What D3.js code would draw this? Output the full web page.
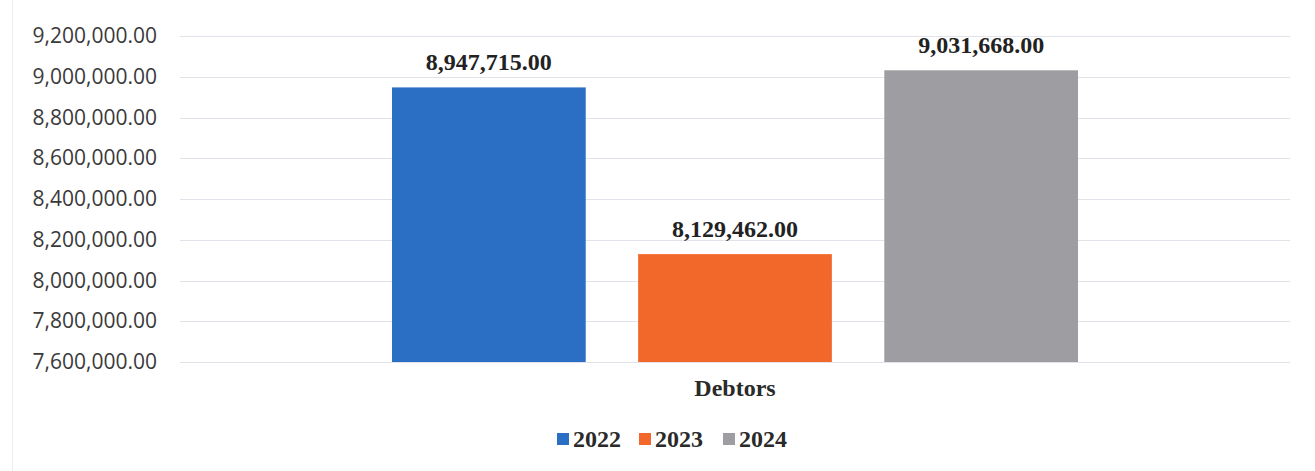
<!DOCTYPE html>
<html>
<head>
<meta charset="utf-8">
<script src="https://cdn.jsdelivr.net/npm/d3@7"></script>
<style>
  html, body { margin: 0; padding: 0; background: #ffffff; }
  svg { display: block; }
</style>
</head>
<body>
<svg id="chart" width="1315" height="471"></svg>
<script>
// Debtors balance by year
const categories = ["Debtors"];
const years = ["2022", "2023", "2024"];
const values2022 = [8947715.00];
const values2023 = [8129462.00];
const values2024 = [9031668.00];
const yTicks = [7600000, 7800000, 8000000, 8200000, 8400000, 8600000, 8800000, 9000000, 9200000];
const colors = ["#2a6fc4", "#f2672a", "#9e9ea2"];

const seriesValues = [values2022, values2023, values2024];

const W = 1315, H = 471;
const margin = { top: 36, right: 25, bottom: 109, left: 180 };
const plotW = W - margin.left - margin.right;
const plotH = H - margin.top - margin.bottom;

const svg = d3.select("#chart");
const g = svg.append("g").attr("transform", `translate(${margin.left},${margin.top})`);

// faint chart-area border on the left
svg.append("line")
  .attr("x1", 12.5).attr("x2", 12.5).attr("y1", 0).attr("y2", H)
  .attr("stroke", "#ececf2").attr("stroke-width", 1);

const y = d3.scaleLinear().domain([7600000, 9200000]).range([plotH, 0]);
const x0 = d3.scaleBand().domain(categories).range([0, plotW]).paddingInner(0).paddingOuter(0.309);
const x1 = d3.scaleBand().domain(years).range([0, x0.bandwidth()]).paddingInner(0.213).paddingOuter(0);

// horizontal gridlines
g.append("g")
  .selectAll("line")
  .data(yTicks)
  .join("line")
  .attr("x1", 0).attr("x2", plotW)
  .attr("y1", d => Math.round(y(d)) + 0.5).attr("y2", d => Math.round(y(d)) + 0.5)
  .attr("stroke", "#e2e2ea").attr("stroke-width", 1);

// y axis labels
const fmt = d3.format(",.2f");
const yAxis = g.append("g")
  .call(d3.axisLeft(y).tickValues(yTicks).tickFormat(fmt).tickSize(0).tickPadding(23));
yAxis.select(".domain").remove();
yAxis.selectAll("text")
  .attr("font-family", "'Open Sans', 'Liberation Sans', sans-serif")
  .attr("font-size", "21px")
  .attr("fill", "#3a3a3a");

// bars
const groups = g.selectAll(".cat")
  .data(categories)
  .join("g")
  .attr("class", "cat")
  .attr("transform", d => `translate(${x0(d)},0)`);

years.forEach((yr, si) => {
  groups.append("rect")
    .attr("x", x1(yr))
    .attr("width", x1.bandwidth())
    .attr("y", (d, ci) => y(seriesValues[si][ci]))
    .attr("height", (d, ci) => plotH - y(seriesValues[si][ci]))
    .attr("fill", colors[si]);

  groups.append("text")
    .attr("x", x1(yr) + x1.bandwidth() / 2)
    .attr("y", (d, ci) => y(seriesValues[si][ci]) - 17)
    .attr("text-anchor", "middle")
    .attr("font-family", "'Liberation Serif', 'Times New Roman', serif")
    .attr("font-weight", "bold")
    .attr("font-size", "24px")
    .attr("fill", "#222222")
    .text((d, ci) => fmt(seriesValues[si][ci]));
});

// category axis
const xAxis = g.append("g")
  .attr("transform", `translate(0,${plotH})`)
  .call(d3.axisBottom(x0).tickSize(0).tickPadding(17));
xAxis.select(".domain").remove();
xAxis.selectAll("text")
  .attr("font-family", "'Liberation Serif', 'Times New Roman', serif")
  .attr("font-weight", "bold")
  .attr("font-size", "24px")
  .attr("fill", "#2a2a2a");

// legend
const legend = svg.append("g").attr("transform", `translate(557,439)`);
const itemX = [0, 82, 166];
years.forEach((yr, i) => {
  const item = legend.append("g").attr("transform", `translate(${itemX[i]},0)`);
  item.append("rect")
    .attr("x", 0).attr("y", -6).attr("width", 12).attr("height", 12)
    .attr("fill", colors[i]);
  item.append("text")
    .attr("x", 16).attr("y", 0)
    .attr("dy", "0.35em")
    .attr("font-family", "'Liberation Serif', 'Times New Roman', serif")
    .attr("font-weight", "bold")
    .attr("font-size", "24px")
    .attr("fill", "#2a2a2a")
    .text(yr);
});
</script>
</body>
</html>
